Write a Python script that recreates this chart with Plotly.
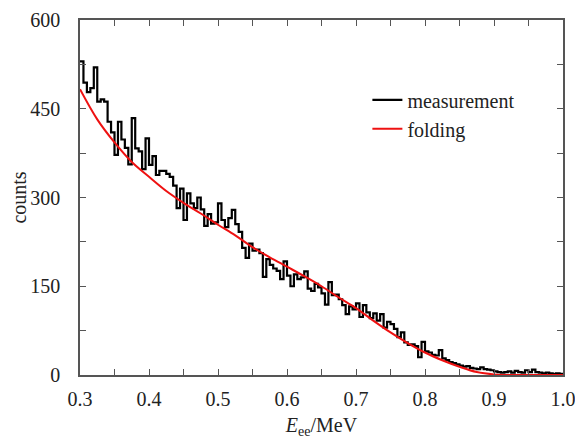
import numpy as np
import plotly.graph_objects as go

# measured spectrum, 0.005 MeV bins from 0.30 to 1.00 MeV
bin_start = 0.3
bin_width = 0.005
measurement = [
    530, 494, 478, 485, 520, 462, 466, 462, 428, 410,
    372, 428, 398, 384, 356, 434, 383, 378, 348, 400,
    355, 370, 338, 345, 345, 340, 335, 320, 282, 315,
    262, 307, 290, 282, 300, 280, 252, 272, 256, 258,
    290, 262, 250, 265, 279, 255, 242, 215, 198, 222,
    210, 212, 206, 166, 196, 186, 180, 176, 162, 192,
    168, 150, 170, 162, 165, 175, 146, 142, 154, 148,
    138, 119, 157, 135, 136, 128, 118, 103, 116, 111,
    121, 98, 118, 106, 96, 104, 92, 103, 80, 90,
    86, 78, 64, 72, 55, 51, 52, 49, 30, 56,
    40, 38, 34, 33, 42, 28, 25, 22, 20, 18,
    16, 14, 15, 12, 11, 10, 13, 10, 9, 8,
    6, 5, 4, 5, 6, 4, 7, 5, 4, 8,
    5, 9, 5, 4, 3, 4, 3, 2, 3, 2,
]

# folded (simulated) spectrum
fold_e = [0.3, 0.325, 0.35, 0.375, 0.4, 0.425, 0.45, 0.475, 0.5, 0.525,
          0.55, 0.575, 0.6, 0.625, 0.65, 0.675, 0.7, 0.725, 0.75, 0.775,
          0.8, 0.825, 0.85, 0.875, 0.9, 0.925, 0.95, 0.975, 1.0]
folding = [483, 432, 393, 360, 335, 311, 291, 273, 254, 236,
           216, 199, 183, 167, 150, 131, 113, 92, 72, 54,
           38, 25, 14, 5, 1, 0, 0, 0, 0]

edges = bin_start + bin_width * np.arange(len(measurement) + 1)
hist_y = measurement + [measurement[-1]]

serif = "Liberation Serif"
txt = "#222222"

fig = go.Figure()
fig.add_trace(go.Scatter(
    x=edges, y=hist_y, mode="lines", name="measurement",
    line=dict(color="black", width=2.2, shape="hv"),
))
fig.add_trace(go.Scatter(
    x=fold_e, y=folding, mode="lines", name="folding",
    line=dict(color="#ee1111", width=2, shape="spline"),
))

axis_common = dict(
    showline=True, linecolor="#555555", linewidth=1.5, mirror="ticks",
    ticks="inside", ticklen=6, tickwidth=1.2, tickcolor="#555555",
    showgrid=False, zeroline=False, automargin=False,
    ticklabeloverflow="allow",
    tickfont=dict(family=serif, size=20, color=txt),
)

fig.update_xaxes(
    range=[0.3, 1.0], dtick=0.1, tickformat=".1f", ticklabelstandoff=5,
    minor=dict(ticks="inside", dtick=0.05, ticklen=6, tickcolor="#555555"),
    title=dict(text="<i>E</i><sub>ee</sub>/MeV", font=dict(family=serif, size=20, color=txt), standoff=14),
    **axis_common,
)
fig.update_yaxes(
    range=[0, 600], dtick=150, ticklabelstandoff=14,
    minor=dict(ticks="inside", dtick=75, ticklen=6, tickcolor="#555555"),
    title=dict(text="counts", font=dict(family=serif, size=20, color=txt), standoff=2),
    **axis_common,
)

# page body adds an 8px margin, so the figure is sized to fit inside the window
fig.update_layout(
    width=567, height=431,
    margin=dict(l=72, r=12, t=12, b=64, autoexpand=False),
    plot_bgcolor="white", paper_bgcolor="white",
    showlegend=True,
    legend=dict(
        x=0.595, y=0.83, xanchor="left", yanchor="top",
        bgcolor="rgba(0,0,0,0)",
        font=dict(family=serif, size=20, color=txt),
        tracegroupgap=0,
    ),
)

fig.write_html("out.html")
